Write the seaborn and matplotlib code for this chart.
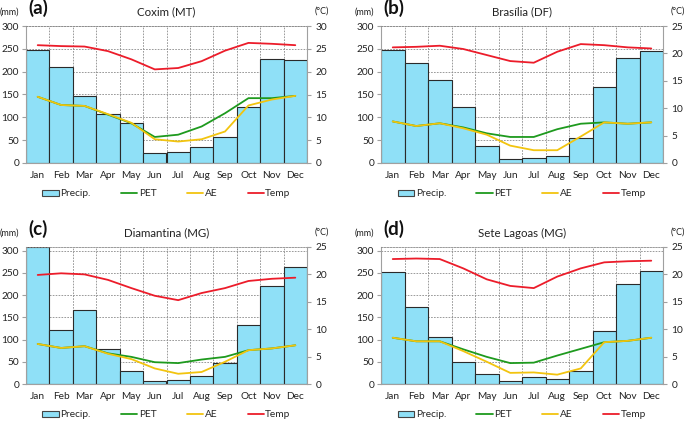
import numpy as np
import pandas as pd
import matplotlib
matplotlib.use("Agg")
import matplotlib.pyplot as plt
from matplotlib.patches import Patch
from matplotlib.lines import Line2D
import seaborn as sns

sns.set_style("white")
plt.rcParams['font.family'] = ['Lato', 'DejaVu Sans']

months = ["Jan", "Feb", "Mar", "Apr", "May", "Jun", "Jul", "Aug", "Sep", "Oct", "Nov", "Dec"]

titles = ["Coxim (MT)", "Brasília (DF)", "Diamantina (MG)", "Sete Lagoas (MG)"]
letters = ["(a)", "(b)", "(c)", "(d)"]

precip_a = [248, 211, 146, 108, 88, 22, 23, 34, 56, 123, 227, 226]
pet_a = [145, 127, 125, 106, 87, 57, 62, 80, 109, 142, 142, 147]
ae_a = [145, 127, 125, 107, 88, 52, 47, 52, 69, 126, 139, 147]
temp_a = [25.8, 25.6, 25.5, 24.5, 22.7, 20.5, 20.8, 22.3, 24.6, 26.3, 26.1, 25.8]

precip_b = [247, 218, 181, 123, 38, 9, 11, 15, 55, 167, 231, 246]
pet_b = [91, 81, 87, 78, 65, 57, 57, 74, 86, 89, 86, 89]
ae_b = [91, 81, 87, 76, 62, 38, 28, 28, 58, 89, 86, 89]
temp_b = [21.1, 21.2, 21.4, 20.8, 19.7, 18.6, 18.3, 20.3, 21.7, 21.5, 21.1, 20.9]

precip_c = [307, 122, 166, 78, 30, 7, 8, 17, 48, 133, 221, 262]
pet_c = [90, 81, 85, 69, 61, 49, 47, 55, 61, 76, 80, 87]
ae_c = [90, 81, 85, 68, 56, 35, 23, 27, 50, 76, 80, 87]
temp_c = [19.9, 20.2, 20.0, 19.0, 17.5, 16.1, 15.3, 16.6, 17.5, 18.8, 19.2, 19.4]

precip_d = [251, 172, 105, 49, 23, 7, 16, 11, 30, 120, 224, 255]
pet_d = [104, 96, 96, 78, 61, 47, 48, 64, 79, 94, 97, 104]
ae_d = [104, 96, 96, 74, 50, 25, 26, 21, 35, 94, 97, 104]
temp_d = [22.8, 22.9, 22.8, 21.1, 19.1, 17.9, 17.5, 19.6, 21.1, 22.2, 22.4, 22.5]

left_max = [300, 300, 308, 308]
right_max = [30, 25, 25, 25]
right_ticks = [np.arange(0, 31, 5), np.arange(0, 26, 5), np.arange(0, 26, 5), np.arange(0, 26, 5)]

datasets = [
    (precip_a, pet_a, ae_a, temp_a),
    (precip_b, pet_b, ae_b, temp_b),
    (precip_c, pet_c, ae_c, temp_c),
    (precip_d, pet_d, ae_d, temp_d),
]

BAR = "#8fe0f7"
EDGE = "#2a2a2a"
GREEN = "#1e9a1e"
YELLOW = "#f2c40f"
RED = "#ec1c2a"
GRAY = "#a0a0a0"

fig = plt.figure(figsize=(6.85, 4.21), dpi=100)
W, H = 685, 421
boxes = [(26, 26, 307, 163), (381, 26, 663, 163), (26, 247, 307, 384), (381, 247, 663, 384)]

for i, (box, data) in enumerate(zip(boxes, datasets)):
    x0, y0, x1, y1 = box
    ax = fig.add_axes([x0 / W, 1 - y1 / H, (x1 - x0) / W, (y1 - y0) / H])
    precip, pet, ae, temp = data
    df = pd.DataFrame({"month": months, "precip": precip, "pet": pet, "ae": ae, "temp": temp,
                       "pos": np.arange(12)})
    sns.barplot(data=df, x="month", y="precip", color=BAR, width=1.0, edgecolor=EDGE,
                linewidth=0.8, saturation=1, ax=ax, zorder=2)
    sns.lineplot(data=df, x="pos", y="pet", color=GREEN, lw=1.3, ax=ax, zorder=3)
    sns.lineplot(data=df, x="pos", y="ae", color=YELLOW, lw=1.3, ax=ax, zorder=4)
    ax.set_xlim(-0.5, 11.5)
    ax.set_ylim(0, left_max[i])
    ax.set_yticks(np.arange(0, 301, 50))
    ax.set_xticks(np.arange(12))
    ax.set_xticklabels(months)
    ax.set_xlabel("")
    ax.set_ylabel("")
    ax.set_xticks(np.arange(0.5, 11, 1), minor=True)
    ax.tick_params(axis="x", which="major", length=0, labelsize=7.3, pad=6, colors="#222222")
    ax.tick_params(axis="x", which="minor", length=3, color=GRAY, direction="out")
    ax.tick_params(axis="y", length=3, color=GRAY, labelsize=7.3, pad=2, colors="#222222", direction="out")
    ax.tick_params(axis="y", which="major", color=GRAY)
    ax.grid(True, axis="y", which="major", ls=(0, (2, 1.5)), color="#8a8a8a", lw=0.6, zorder=0)
    ax.grid(True, axis="x", which="minor", ls=(0, (2, 1.5)), color="#8a8a8a", lw=0.6, zorder=0)
    ax.set_axisbelow(True)
    for s in ["left", "bottom"]:
        ax.spines[s].set_color(GRAY)
        ax.spines[s].set_linewidth(0.8)
    ax.spines["top"].set_color("#8a8a8a")
    ax.spines["top"].set_linestyle((0, (2, 1.5)))
    ax.spines["top"].set_linewidth(0.6)
    ax.spines["right"].set_visible(False)

    ax2 = ax.twinx()
    sns.lineplot(data=df, x="pos", y="temp", color=RED, lw=1.3, ax=ax2, zorder=5)
    ax2.set_ylim(0, right_max[i])
    ax2.set_yticks(right_ticks[i])
    ax2.set_ylabel("")
    ax2.set_xlim(-0.5, 11.5)
    ax2.tick_params(axis="y", length=3, color=GRAY, labelsize=7.3, pad=3, colors="#222222")
    ax2.tick_params(axis="y", color=GRAY)
    for s in ["top", "left", "bottom"]:
        ax2.spines[s].set_visible(False)
    ax2.spines["right"].set_color(GRAY)
    ax2.spines["right"].set_linewidth(0.8)
    ax2.grid(False)

    # titles and unit labels
    ty = y0 - 14
    fig.text(((x0 + x1) / 2) / W, 1 - ty / H, titles[i], ha="center", va="center", fontsize=8.3, color="#222222")
    fig.text((x0 + 2) / W, 1 - (y0 - 18) / H, letters[i], ha="left", va="center", fontsize=13.5,
             fontweight="bold", color="#111111")
    fig.text((x0 - 26) / W, 1 - (y0 - 14) / H, "(mm)", ha="left", va="center", fontsize=6.5, color="#222222")
    fig.text((x1 + 8) / W, 1 - (y0 - 15) / H, "(°C)", ha="left", va="center", fontsize=6.5, color="#222222")

    handles = [Patch(facecolor=BAR, edgecolor="#444444", linewidth=0.8),
               Line2D([0], [0], color=GREEN, lw=1.3),
               Line2D([0], [0], color=YELLOW, lw=1.3),
               Line2D([0], [0], color=RED, lw=1.3)]
    ax.legend(handles, ["Precip.", "PET", "AE", "Temp"], ncol=4, loc="center",
              bbox_to_anchor=(0.5, -0.225), frameon=False, fontsize=7.3, handlelength=1.6,
              handleheight=0.6, handletextpad=0.15, columnspacing=3.0)

fig.savefig("out.png", dpi=100)
